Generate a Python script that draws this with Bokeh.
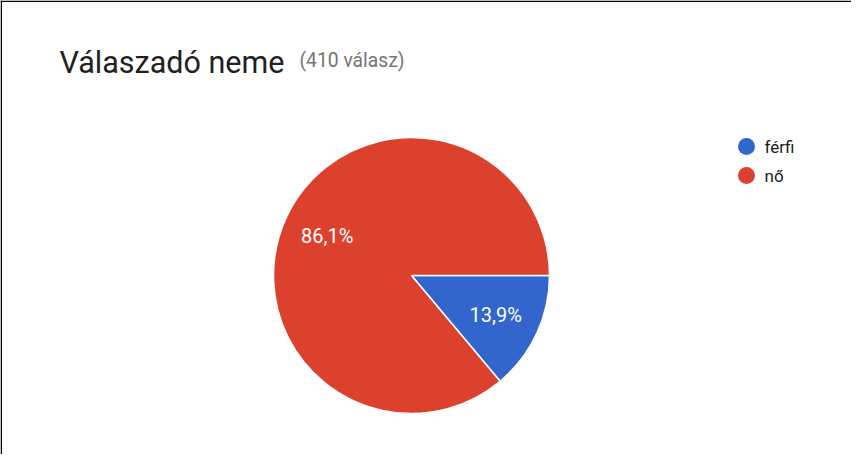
import math
from bokeh.plotting import figure
from bokeh.models import Range1d, Span, ColumnDataSource
from bokeh.core.properties import value
from bokeh.embed import file_html
from bokeh.resources import INLINE

# ---- data ----
title_text = "Válaszadó neme"
subtitle_text = "(410 válasz)"
categories = ["férfi", "nő"]
counts = [57, 353]
colors = ["#3366CC", "#DC412D"]

# ---- layout (pixels inside figure) ----
W, H = 851, 454
cx, cy_top = 411, 275          # pie centre, measured from top
R = 138
label_r = 93

def ytop(v):
    return H - v

total = sum(counts)
fracs = [c / total for c in counts]

starts, ends, lx, ly, labels = [], [], [], [], []
cum = 0.0
for f in fracs:
    a0 = cum * 2 * math.pi
    a1 = (cum + f) * 2 * math.pi
    # clockwise from 3 o'clock -> anticlockwise angles negative
    starts.append(-a1)
    ends.append(-a0)
    mid = -(a0 + a1) / 2
    lx.append(cx + label_r * math.cos(mid))
    ly.append(ytop(cy_top) + label_r * math.sin(mid))
    labels.append(f"{f*100:.1f}%".replace(".", ","))
    cum += f

src = ColumnDataSource(dict(
    cat=categories, start=starts, end=ends, color=colors,
    lx=lx, ly=ly, label=labels,
))

p = figure(width=W, height=H, output_backend="svg", toolbar_location=None,
           x_range=Range1d(0, W), y_range=Range1d(0, H), min_border=0,
           outline_line_color=None, background_fill_color="white",
           border_fill_color="white")
p.axis.visible = False
p.grid.visible = False

p.wedge(x=cx, y=ytop(cy_top), radius=R, start_angle="start", end_angle="end",
        fill_color="color", line_color="white", line_width=1.5, source=src)

p.text(x="lx", y="ly", text="label", source=src, text_color="white",
       text_font=value("Roboto"), text_font_size="20px",
       text_align="center", text_baseline="middle")

# title
p.text(x=[59], y=[ytop(61.5)], text=[title_text], text_font=value("Roboto"),
       text_font_size="30.5px", text_color="#212121", text_baseline="alphabetic")
p.text(x=[299], y=[ytop(60)], text=[subtitle_text], text_font=value("Roboto"),
       text_font_size="19.3px", text_color="#757575", text_baseline="alphabetic")

# legend
leg_y = [ytop(146), ytop(175)]
p.scatter(x=[746, 746], y=leg_y, size=17, marker="circle",
          fill_color=colors, line_color=None)
p.text(x=[764, 764], y=leg_y, text=categories, text_font=value("Roboto"),
       text_font_size="17px", text_color="#212121", text_baseline="middle")

# frame lines (top and left)
p.add_layout(Span(location=H - 0.75, dimension="width", line_color="black", line_width=1.5))
p.add_layout(Span(location=0.75, dimension="height", line_color="black", line_width=1.5))

open("out.html", "w").write(file_html(p, INLINE))
